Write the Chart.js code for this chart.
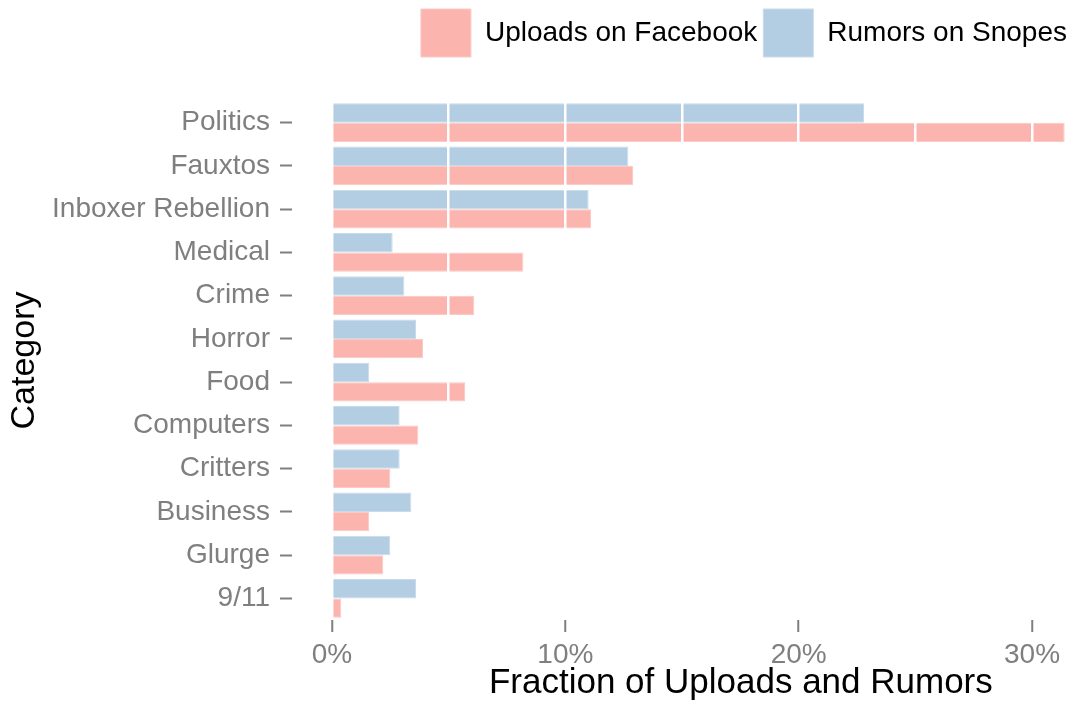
<!DOCTYPE html>
<html>
<head>
<meta charset="utf-8">
<script src="https://cdn.jsdelivr.net/npm/chart.js@4/dist/chart.umd.min.js"></script>
<style>
  html, body { margin: 0; padding: 0; background: #fff; }
  #wrap { width: 1073px; height: 704px; }
</style>
</head>
<body>
<div id="wrap"><canvas id="bars"></canvas></div>
<script>
// values (percent)
const categories = ['Politics', 'Fauxtos', 'Inboxer Rebellion', 'Medical', 'Crime', 'Horror',
  'Food', 'Computers', 'Critters', 'Business', 'Glurge', '9/11'];
const facebook = [31.4, 12.9, 11.1, 8.2, 6.1, 3.9, 5.7, 3.7, 2.5, 1.6, 2.2, 0.4];
const snopes = [22.8, 12.7, 11.0, 2.6, 3.1, 3.6, 1.6, 2.9, 2.9, 3.4, 2.5, 3.6];
const xTicks = [0, 5, 10, 15, 20, 25, 30];

const font = "'Liberation Sans', Helvetica, Arial, sans-serif";
const grey = '#7f7f7f';

// push the plot down below the legend
const legendGap = {
  id: 'legendGap',
  beforeInit(chart) {
    const fit = chart.legend.fit;
    chart.legend.fit = function () {
      fit.bind(chart.legend)();
      this.height += 34;
    };
  }
};

const ctx = document.getElementById('bars').getContext('2d');
const chart = new Chart(ctx, {
  type: 'bar',
  data: {
    labels: categories,
    datasets: [{
      label: 'Rumors on Snopes',
      data: snopes,
      backgroundColor: '#b3cde3',
      borderColor: '#c9dbeb',
      borderWidth: 1
    }, {
      label: 'Uploads on Facebook',
      data: facebook,
      backgroundColor: '#fbb4ae',
      borderColor: '#fcc9c4',
      borderWidth: 1
    }]
  },
  options: {
    indexAxis: 'y',
    responsive: true,
    maintainAspectRatio: false,
    animation: false,
    devicePixelRatio: 1,
    layout: { padding: { top: 3 } },
    datasets: {
      bar: { barPercentage: 1, categoryPercentage: 0.9 }
    },
    plugins: {
      tooltip: { enabled: false },
      legend: {
        position: 'top',
        align: 'end',
        labels: {
          boxWidth: 50,
          boxHeight: 48,
          padding: 6,
          color: '#000',
          font: { family: font, size: 28 },
          sort: (a, b) => b.datasetIndex - a.datasetIndex
        }
      }
    },
    scales: {
      x: {
        type: 'linear',
        bounds: 'data',
        min: -1.714,
        max: 31.757,
        afterBuildTicks: (scale) => {
          scale.ticks = xTicks.map(v => ({ value: v }));
        },
        border: { display: false },
        grid: {
          z: 1,
          color: (c) => (c.tick && c.tick.value !== 0) ? '#ffffff' : 'rgba(0,0,0,0)',
          lineWidth: 2.5,
          drawTicks: true,
          tickLength: 12,
          tickWidth: 2,
          tickColor: (c) => (c.tick && c.tick.value % 10 === 0) ? grey : 'rgba(0,0,0,0)'
        },
        ticks: {
          autoSkip: false,
          maxRotation: 0,
          padding: 6,
          color: grey,
          font: { family: font, size: 28 },
          callback: (v) => (v % 10 === 0) ? v + '%' : ''
        },
        title: {
          display: true,
          // leading spaces nudge the centred title right, as in the original
          text: '            Fraction of Uploads and Rumors',
          color: '#000',
          font: { family: font, size: 35 },
          padding: { top: 0, bottom: 0 }
        },
        afterFit: (scale) => { scale.height = 84; }
      },
      y: {
        border: { display: false },
        grid: {
          offset: false,
          drawOnChartArea: false,
          drawTicks: true,
          tickLength: 12,
          tickWidth: 2,
          tickColor: grey
        },
        ticks: {
          padding: 10,
          color: grey,
          font: { family: font, size: 28 }
        },
        title: {
          display: true,
          text: 'Category',
          color: '#000',
          font: { family: font, size: 34 },
          padding: { top: 4, bottom: 0 }
        },
        afterFit: (scale) => { scale.width = 292; }
      }
    }
  },
  plugins: [legendGap]
});
</script>
</body>
</html>
